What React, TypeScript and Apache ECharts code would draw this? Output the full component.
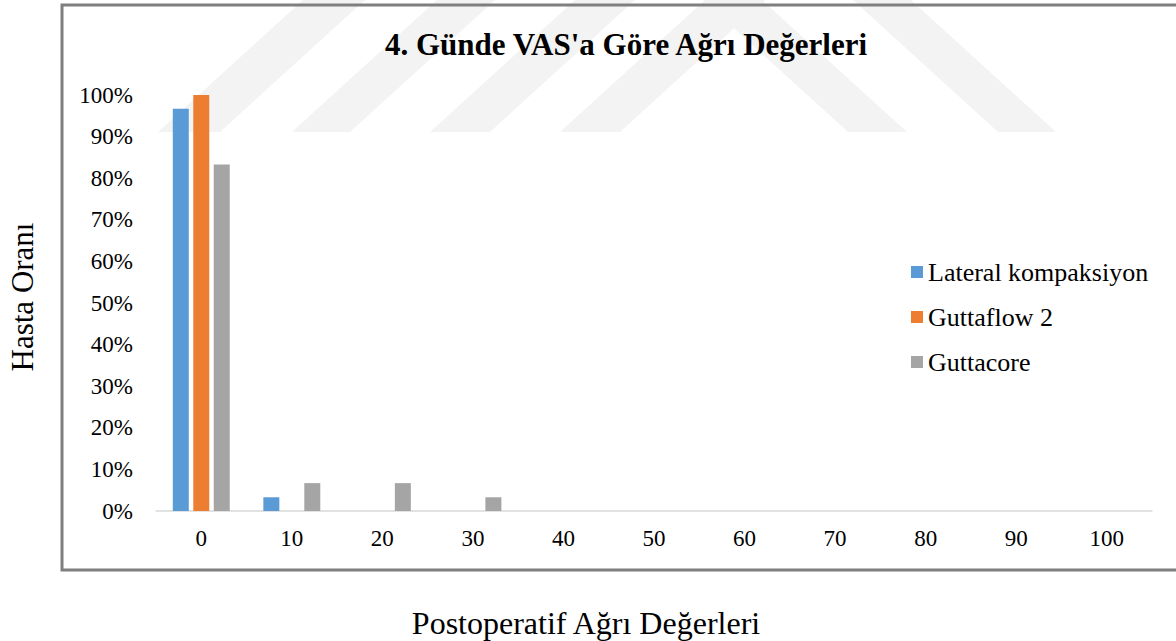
import React, { useEffect, useRef } from "react";
import * as echarts from "echarts";

const categories = ["0", "10", "20", "30", "40", "50", "60", "70", "80", "90", "100"];
const lateralKompaksiyon = [96.7, 3.3, 0, 0, 0, 0, 0, 0, 0, 0, 0];
const guttaflow2 = [100, 0, 0, 0, 0, 0, 0, 0, 0, 0, 0];
const guttacore = [83.3, 6.7, 6.7, 3.3, 0, 0, 0, 0, 0, 0, 0];
const seriesNames = ["Lateral kompaksiyon", "Guttaflow 2", "Guttacore"];
const colors = ["#5b9bd5", "#ed7d31", "#a5a5a5"];

const FONT = "Liberation Serif";

const wmColor = "#f3f3f3";
const band = (b0: number, b1: number, t0: number, t1: number) => ({
  type: "polygon",
  z: -10,
  silent: true,
  shape: { points: [[b0, 132], [b1, 132], [t1, 0], [t0, 0]] },
  style: { fill: wmColor },
});

export default function App() {
  const ref = useRef<HTMLDivElement>(null);
  useEffect(() => {
    if (!ref.current) return;
    const chart = echarts.init(ref.current, undefined, { renderer: "svg" });
    const data = [lateralKompaksiyon, guttaflow2, guttacore];
    chart.setOption({
      animation: false,
      backgroundColor: "#ffffff",
      title: {
        text: "4. Günde VAS'a Göre Ağrı Değerleri",
        left: 621,
        top: 24,
        textAlign: "center",
        textStyle: { fontFamily: FONT, fontSize: 31, fontWeight: 700, color: "#000" },
      },
      legend: {
        orient: "vertical",
        left: 906,
        top: 254,
        itemWidth: 12,
        itemHeight: 12,
        itemGap: 19,
        icon: "rect",
        data: seriesNames,
        textStyle: { fontFamily: FONT, fontSize: 26, color: "#000", lineHeight: 26 },
      },
      grid: { left: 156, right: 24, top: 95, bottom: 130, containLabel: false },
      xAxis: {
        type: "category",
        data: categories,
        axisLine: { lineStyle: { color: "#d9d9d9", width: 1.5 } },
        axisTick: { show: false },
        axisLabel: { fontFamily: FONT, fontSize: 23, color: "#000", margin: 16 },
      },
      yAxis: {
        type: "value",
        min: 0,
        max: 100,
        interval: 10,
        axisLine: { show: false },
        axisTick: { show: false },
        splitLine: { show: false },
        axisLabel: { fontFamily: FONT, fontSize: 23, color: "#000", margin: 23, formatter: "{value}%" },
      },
      series: seriesNames.map((name, i) => ({
        name,
        type: "bar",
        data: data[i],
        barWidth: 16,
        barGap: "28%",
        itemStyle: { color: colors[i] },
      })),
      graphic: [
        band(158, 220, 303, 365),
        band(292, 350, 437, 495),
        band(430, 490, 575, 635),
        band(560, 620, 705, 765),
        band(848, 907, 703, 762),
        band(998, 1056, 853, 911),
        {
          type: "rect",
          z: 100,
          silent: true,
          shape: { x: 62, y: 5, width: 1200, height: 565 },
          style: { fill: "none", stroke: "#7f7f7f", lineWidth: 3 },
        },
        {
          type: "text",
          x: 586,
          y: 623,
          style: {
            text: "Postoperatif Ağrı Değerleri",
            fontFamily: FONT,
            fontSize: 32,
            fill: "#000",
            align: "center",
            verticalAlign: "middle",
          },
        },
        {
          type: "text",
          x: 22,
          y: 297,
          rotation: Math.PI / 2,
          style: {
            text: "Hasta Oranı",
            fontFamily: FONT,
            fontSize: 31,
            fill: "#000",
            align: "center",
            verticalAlign: "middle",
          },
        },
      ],
    });
    return () => chart.dispose();
  }, []);
  return (
    <div
      ref={ref}
      style={{ position: "fixed", left: 0, top: 0, width: 1176, height: 641 }}
    />
  );
}
